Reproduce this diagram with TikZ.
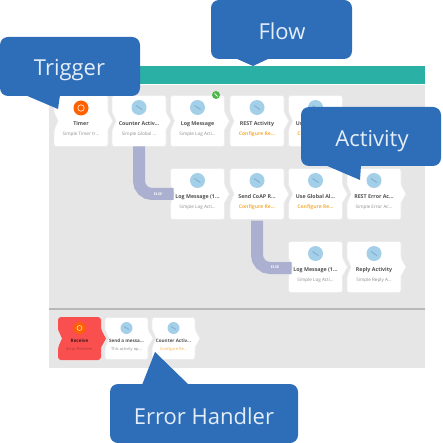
\documentclass[tikz,border=0pt]{standalone}
\usepackage{fontspec}
\setmainfont{Open Sans}
\definecolor{panel}{HTML}{E7E6E6}
\definecolor{teal}{HTML}{2BB0A6}
\definecolor{callout}{HTML}{2E6DB8}
\definecolor{calltext}{HTML}{E4EEF8}
\definecolor{iconblue}{HTML}{A3CFE8}
\definecolor{iconglyph}{HTML}{7FAFCF}
\definecolor{branch}{HTML}{ABAFD0}
\definecolor{warn}{HTML}{F5B041}
\definecolor{redcard}{HTML}{F9504F}
\definecolor{cardedge}{HTML}{EDECEC}
\tikzset{
  px/.style={x=1pt,y=-1pt},
  anchorbox/.style={inner sep=0pt,outer sep=0pt},
  cardfill/.style={fill=white,draw=cardedge,line width=.6pt,rounded corners=2.5pt},
  titletext/.style={font=\bfseries\fontsize{5.3}{6}\selectfont,text=black!68,inner sep=0pt},
  subtext/.style={font=\fontsize{4.6}{5.5}\selectfont,text=black!45,inner sep=0pt},
  warntext/.style={font=\bfseries\fontsize{5}{6}\selectfont,text=warn,inner sep=0pt},
  iconmark/.style={circle,fill=iconblue,minimum size=15pt,inner sep=0pt},
  timermark/.style={circle,fill=orange!75!red,minimum size=15pt,inner sep=0pt},
  branchline/.style={draw=branch,line width=12pt,rounded corners=13pt},
  branchtext/.style={font=\bfseries\fontsize{3.6}{4}\selectfont,text=white,inner sep=0pt},
  bubble/.style={fill=callout,rounded corners=8pt},
  bubbletext/.style={font=\fontsize{22}{26}\selectfont,text=calltext,inner sep=0pt},
}
% name, centre x, centre y, half width, half height, fill style
\newcommand{\cardshape}[6]{%
  \node[anchorbox,minimum width=#4*2pt,minimum height=#5*2pt] (#1) at (#2,#3) {};
  \path[#6] (#2-#4,#3-#5) -- (#2+#4,#3-#5) -- (#2+#4,#3-9)
     {[sharp corners] -- (#2+#4+5,#3) -- (#2+#4,#3+9)} -- (#2+#4,#3+#5)
     -- (#2-#4,#3+#5) -- (#2-#4,#3+9) {[sharp corners] -- (#2-#4+4,#3) -- (#2-#4,#3-9)} -- cycle;
}
% name, centre x, centre y, title, subtitle, subtitle style
\newcommand{\flowcard}[6]{%
  \cardshape{#1}{#2}{#3}{27}{25.5}{cardfill}
  \node[iconmark] (#1i) at (#2,#3-13.5) {};
  \draw[iconglyph,line width=.9pt] (#2-3,#3-15.5) -- (#2+3,#3-11.5);
  \node[titletext] (#1t) at (#2,#3+3) {#4};
  \node[#6] (#1s) at (#2,#3+13) {#5};
}
% name, centre x, title, subtitle, subtitle style (error-handler row)
\newcommand{\errcard}[5]{%
  \cardshape{#1}{#2}{338.5}{21.5}{21}{cardfill}
  \node[iconmark,minimum size=12pt] (#1i) at (#2,328) {};
  \draw[iconglyph,line width=.8pt] (#2-2.5,326.5) -- (#2+2.5,329.5);
  \node[titletext,font=\bfseries\fontsize{4.6}{5}\selectfont] (#1t) at (#2,341) {#3};
  \node[#5,font=\fontsize{4}{5}\selectfont] (#1s) at (#2,349) {#4};
}
\begin{document}
\begin{tikzpicture}[px]
\useasboundingbox (0,0) rectangle (442,443);
% panels
\fill[panel] (49,84) rectangle (425,368);
\fill[teal] (100,66) rectangle (425,84);
\fill[white] (49,84) rectangle (425,85);
\fill[black!28] (49,308) rectangle (425,309.5);
% first-row cards
\cardshape{c1}{81}{121}{27}{25.5}{cardfill}
\node[timermark] (c1i) at (81,108) {};
\draw[white!80!orange,line width=.7pt] (81,108) circle (3.2pt);
\node[titletext] (c1t) at (81,124) {Timer};
\node[subtext] (c1s) at (81,134) {Simple Timer tr...};
\flowcard{c2}{139}{121}{Counter Activ...}{Simple Global ...}{subtext}
\flowcard{c3}{197.5}{121}{Log Message}{Simple Log Acti...}{subtext}
\node[circle,fill=green!60!black!70,minimum size=8pt,inner sep=0pt] (c3b) at (216,95) {};
\draw[white,line width=.7pt] (214.5,93.5) -- (217.5,96.5);
\flowcard{c4}{257}{121}{REST Activity}{Configure Re...}{warntext}
\flowcard{c5}{315.5}{121}{Use Global Al...}{Configure Re...}{warntext}
% second-row cards
\flowcard{d1}{197.5}{194}{Log Message (1...}{Simple Log Acti...}{subtext}
\flowcard{d2}{257}{194}{Send CoAP R...}{Configure Re...}{warntext}
\flowcard{d3}{315.5}{194}{Use Global Al...}{Configure Re...}{warntext}
\flowcard{d4}{374}{194}{REST Error Ac...}{Simple Error Ac...}{subtext}
% third-row cards
\flowcard{e1}{315.5}{267}{Log Message (1...}{Simple Log Acti...}{subtext}
\flowcard{e2}{374}{267}{Reply Activity}{Simple Reply A...}{subtext}
% error handler cards
\cardshape{h1}{79.5}{338.5}{21.5}{21.5}{fill=redcard,rounded corners=3pt}
\node[timermark,minimum size=12pt] (h1i) at (79.5,328) {};
\draw[white!80!orange,line width=.6pt] (79.5,328) circle (2.5pt);
\node[titletext,text=black!70!redcard,font=\bfseries\fontsize{4.6}{5}\selectfont] (h1t) at (79.5,341) {Receive};
\node[subtext,text=black!30!redcard,font=\fontsize{4}{5}\selectfont] (h1s) at (79.5,349) {Error Receiver};
\errcard{h2}{126.5}{Send a messa...}{This activity op...}{subtext}
\errcard{h3}{173.5}{Counter Activ...}{Configure Re...}{warntext}
% branch connectors
\coordinate (b1) at (c2.south);
\coordinate (b2) at ([xshift=3pt]d1.west);
\draw[branchline] (b1) |- (b2);
\node[branchtext] (b1l) at (158,194) {ELSE};
\coordinate (b3) at ([yshift=-1pt]d2.south);
\coordinate (b4) at ([xshift=3pt,yshift=-1pt]e1.west);
\draw[branchline] (b3) |- (b4);
\node[branchtext] (b2l) at (275,267) {ELSE};
% callouts
\fill[bubble] (0,37) -- (140,37) -- (140,96) -- (0,96) -- cycle;
\fill[callout] (25,95) -- (58,109) -- (60,95) -- cycle;
\node[bubbletext] (trigger) at (69.5,70) {Trigger};
\fill[bubble] (211,0) -- (352,0) -- (352,59) -- (211,59) -- cycle;
\fill[callout] (235,58) -- (253,66) -- (270,58) -- cycle;
\node[bubbletext] (flow) at (282,31) {Flow};
\fill[bubble] (301,107) -- (441,107) -- (441,166) -- (301,166) -- cycle;
\fill[callout] (325,165) -- (360,180) -- (361,165) -- cycle;
\node[bubbletext] (activity) at (372,141) {Activity};
\fill[bubble] (110,384) -- (298,384) -- (298,443) -- (110,443) -- cycle;
\fill[callout] (142,385) -- (155,352) -- (189,385) -- cycle;
\node[bubbletext] (errorh) at (204,416) {Error Handler};
\end{tikzpicture}
\end{document}
